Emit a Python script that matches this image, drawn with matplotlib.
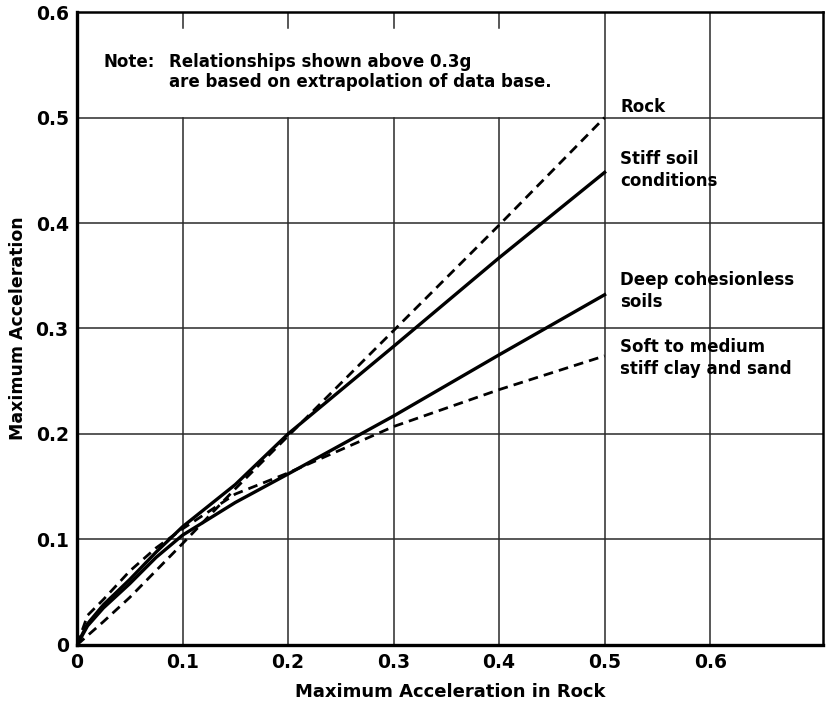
import matplotlib
matplotlib.use("Agg")
import matplotlib.pyplot as plt

# maximum acceleration at site vs. in rock, by soil class
x_rock = [0.0, 0.025, 0.05, 0.1, 0.15, 0.2, 0.3, 0.4, 0.5]
y_rock = [0.0, 0.022, 0.045, 0.096, 0.148, 0.198, 0.298, 0.398, 0.5]

x_soil = [0.0, 0.01, 0.025, 0.05, 0.075, 0.1, 0.15, 0.2, 0.3, 0.4, 0.5]
y_stiff = [0.0, 0.02, 0.038, 0.062, 0.088, 0.112, 0.152, 0.2, 0.283, 0.367, 0.448]
y_deep = [0.0, 0.018, 0.035, 0.058, 0.083, 0.104, 0.135, 0.162, 0.217, 0.275, 0.332]
y_soft = [0.0, 0.028, 0.043, 0.07, 0.092, 0.11, 0.143, 0.163, 0.207, 0.242, 0.274]

curve_labels = ["Rock", "Stiff soil\nconditions", "Deep cohesionless\nsoils",
                "Soft to medium\nstiff clay and sand"]
label_y = [0.51, 0.450, 0.3355, 0.272]

x_ticks = [0, 0.1, 0.2, 0.3, 0.4, 0.5, 0.6]
y_ticks = [0, 0.1, 0.2, 0.3, 0.4, 0.5, 0.6]
tick_text = ["0", "0.1", "0.2", "0.3", "0.4", "0.5", "0.6"]

plt.rcParams["font.family"] = ["DejaVu Sans"]
fig = plt.figure(figsize=(8.28, 7.11), dpi=100)
ax = fig.add_axes([0.093, 0.093, 0.901, 0.890])
ax.set_xlim(0, 0.707)
ax.set_ylim(0, 0.6)

gc = "#2a2a2a"
# grid: the band above 0.5 is left open for the note
for xv in x_ticks[1:5]:
    ax.plot([xv, xv], [0, 0.5], color=gc, lw=1.1, zorder=1)
    ax.plot([xv, xv], [0.6, 0.585], color=gc, lw=1.1, zorder=1)
for xv in x_ticks[5:]:
    ax.plot([xv, xv], [0, 0.6], color=gc, lw=1.1, zorder=1)
for yv in y_ticks[1:6]:
    ax.axhline(yv, color=gc, lw=1.1, zorder=1)

dash = (0, (3.5, 2.2))
ax.plot(x_rock, y_rock, color="black", lw=2.0, ls=dash, zorder=3)
ax.plot(x_soil, y_stiff, color="black", lw=2.4, zorder=3)
ax.plot(x_soil, y_deep, color="black", lw=2.4, zorder=3)
ax.plot(x_soil, y_soft, color="black", lw=2.0, ls=dash, zorder=3)

for txt, yv in zip(curve_labels, label_y):
    ax.text(0.515, yv, txt, ha="left", va="center", fontsize=12,
            fontweight="bold", linespacing=1.3, zorder=4)

ax.text(0.025, 0.553, "Note:", ha="left", va="center", fontsize=12, fontweight="bold")
ax.text(0.087, 0.553, "Relationships shown above 0.3g", ha="left", va="center",
        fontsize=12, fontweight="bold")
ax.text(0.087, 0.534, "are based on extrapolation of data base.", ha="left",
        va="center", fontsize=12, fontweight="bold")

ax.set_xticks(x_ticks)
ax.set_xticklabels(tick_text, fontsize=13.5, fontweight="bold")
ax.set_yticks(y_ticks)
ax.set_yticklabels(tick_text, fontsize=13.5, fontweight="bold")
ax.tick_params(length=0, pad=6)

ax.set_xlabel("Maximum Acceleration in Rock", fontsize=13, fontweight="bold", labelpad=8)
ax.set_ylabel("Maximum Acceleration", fontsize=12.5, fontweight="bold", labelpad=6)

for side in ["left", "bottom"]:
    ax.spines[side].set_linewidth(2.4)
for side in ["top", "right"]:
    ax.spines[side].set_linewidth(1.8)

fig.savefig("out.png", dpi=100)
